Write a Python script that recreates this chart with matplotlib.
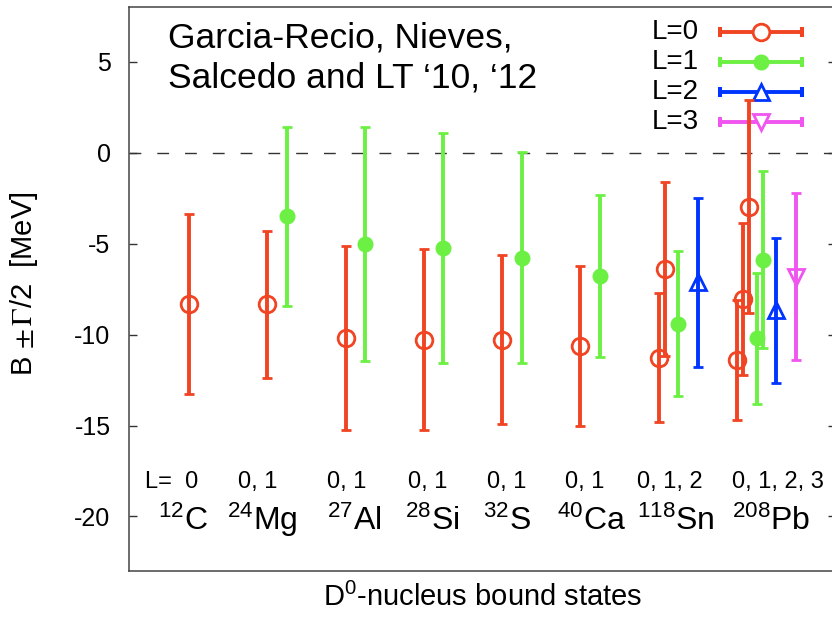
import matplotlib
matplotlib.use('Agg')
import matplotlib.pyplot as plt
import numpy as np

plt.rcParams['font.family'] = ['Liberation Sans', 'DejaVu Sans']
plt.rcParams['mathtext.fontset'] = 'custom'
plt.rcParams['mathtext.rm'] = 'Liberation Sans'
plt.rcParams['mathtext.it'] = 'Liberation Sans:italic'
plt.rcParams['mathtext.bf'] = 'Liberation Sans:bold'
plt.rcParams['axes.unicode_minus'] = False

# nuclei and the L values found for each
mass = ['12', '24', '27', '28', '32', '40', '118', '208']
symbol = ['C', 'Mg', 'Al', 'Si', 'S', 'Ca', 'Sn', 'Pb']
l_text = ['L=  0', '0, 1', '0, 1', '0, 1', '0, 1', '0, 1', '0, 1, 2', '0, 1, 2, 3']

# bound states: nucleus index, L, binding energy B and half width Gamma/2 (MeV)
state_nuc = [0, 1, 1, 2, 2, 3, 3, 4, 4, 5, 5, 6, 6, 6, 6, 7, 7, 7, 7, 7, 7, 7]
state_L = [0, 0, 1, 0, 1, 0, 1, 0, 1, 0, 1, 0, 0, 1, 2, 0, 0, 0, 1, 1, 2, 3]
state_B = [-8.3, -8.33, -3.5, -10.2, -5.03, -10.27, -5.22, -10.27, -5.76, -10.62, -6.79,
           -11.26, -6.39, -9.39, -7.13, -11.38, -8.06, -2.96, -10.2, -5.87, -8.66, -6.81]
state_hw = [4.95, 4.04, 4.9, 5.07, 6.42, 5.0, 6.33, 4.67, 5.82, 4.4, 4.45,
            3.57, 4.8, 4.0, 4.67, 3.3, 4.18, 5.87, 3.6, 4.88, 4.0, 4.6]

# style for each L
colors = ['#F04422', '#6CF044', '#0034FF', '#F055F0']
markers = ['o', 'o', '^', 'v']
filled = [False, True, False, False]
msizes = [12, 9.5, 12, 12]

W, H = 832, 617
fig = plt.figure(figsize=(W / 100, H / 100), dpi=100)
# axes box in pixels: left 129, right 836 (just past the edge), top 7, bottom 571
ax = fig.add_axes([129.3 / W, 1 - 571 / H, (836 - 129.3) / W, (571 - 7.3) / H])

# x position: nucleus slot + shift by L + small shift for repeated L
xs = []
seen = {}
for n, L in zip(state_nuc, state_L):
    k = seen.get((n, L), 0)
    seen[(n, L)] = k + 1
    xs.append(n + 0.25 * L + 0.075 * k)
xs = np.array(xs)
Ls = np.array(state_L)
Bs = np.array(state_B)
hws = np.array(state_hw)

ax.axhline(0, color='#333333', lw=1.0, dashes=(8.5, 11.5), zorder=1)

for L in range(4):
    m = Ls == L
    ax.errorbar(xs[m], Bs[m], yerr=hws[m], fmt=markers[L], color=colors[L],
                mfc=colors[L] if filled[L] else 'none', mec=colors[L],
                ms=msizes[L], mew=2.0, elinewidth=2.8, capsize=3.3, capthick=2.9,
                zorder=3)

# legend, drawn by hand in gnuplot style
for L in range(4):
    yy = 1 - (31.7 + 30 * L - 7.3) / (571 - 7.3)
    ax.text(0.806, yy, 'L=%d' % L, transform=ax.transAxes, ha='right', va='center',
            fontsize=20)
    ax.plot([0.836, 0.952], [yy, yy], transform=ax.transAxes, color=colors[L],
            lw=2.8, zorder=2, clip_on=False)
    ax.plot([0.836, 0.952], [yy, yy], transform=ax.transAxes, ls='none', marker='|',
            ms=6.6, mew=2.9, color=colors[L], zorder=2)
    ax.plot([0.8936], [yy], transform=ax.transAxes, ls='none', marker=markers[L],
            ms=msizes[L], mew=2.0, color=colors[L],
            mfc=colors[L] if filled[L] else 'white', zorder=2)

ax.set_xlim(-0.762, 8.263)
ax.set_ylim(-23, 8)
ax.set_yticks(np.arange(-20, 6, 5))
ax.set_xticks([])
ax.tick_params(axis='y', direction='in', length=5.8, width=1.0, right=True,
               labelsize=18, pad=13.5, color='#333333')

for side in ['top', 'left', 'bottom', 'right']:
    ax.spines[side].set_color('#444444')
    ax.spines[side].set_linewidth(1.1)

# labels under each nucleus
l_left = [145, 238, 327, 408, 487, 565, 637, 732]
n_left = [158, 227, 327, 405, 483, 557, 637, 732]
for i in range(len(symbol)):
    ax.text((l_left[i] - 129.3) / 706.7, (571 - 488) / 563.7, l_text[i],
            transform=ax.transAxes, ha='left', va='baseline', fontsize=17)
    ax.text((n_left[i] - 129.3) / 706.7, (571 - 530) / 563.7,
            r'$^{%s}\mathrm{%s}$' % (mass[i], symbol[i]),
            transform=ax.transAxes, ha='left', va='baseline', fontsize=23)

ax.text((168 - 129.3) / 706.7, (571 - 47) / 563.7, 'Garcia-Recio, Nieves,',
        transform=ax.transAxes, ha='left', va='baseline', fontsize=25.5)
ax.text((168 - 129.3) / 706.7, (571 - 88) / 563.7, 'Salcedo and LT \u201810, \u201812',
        transform=ax.transAxes, ha='left', va='baseline', fontsize=25.5)

ax.set_ylabel(r'B $\pm\,\Gamma$/2  [MeV]', fontsize=21, math_fontfamily='stix')
ax.yaxis.set_label_coords((40 - 129.3) / 706.7, 0.51)
ax.set_xlabel(r'D$^{0}$-nucleus bound states', fontsize=21)
ax.xaxis.set_label_coords(0.5, (571 - 583) / 563.7)

fig.savefig('out.png', dpi=100)
